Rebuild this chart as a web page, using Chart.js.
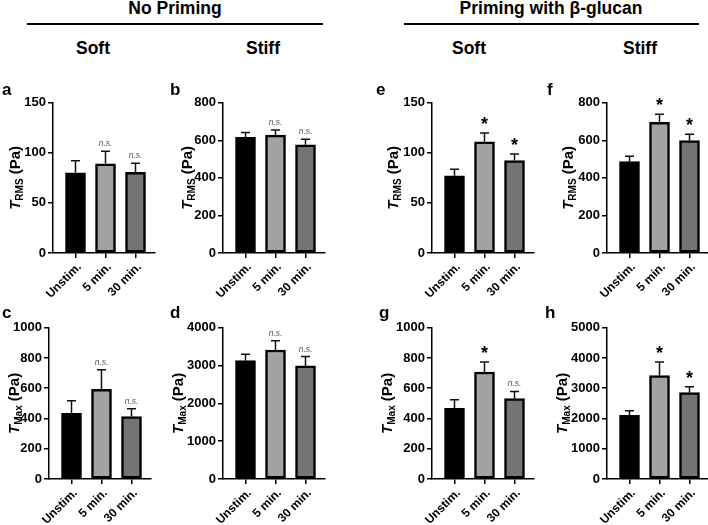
<!DOCTYPE html>
<html>
<head>
<meta charset="utf-8">
<script src="https://cdn.jsdelivr.net/npm/chart.js@4"></script>
<style>
  body { margin: 0; width: 708px; height: 525px; position: relative; overflow: hidden; background: #fff;
         font-family: "Liberation Sans", Arial, sans-serif; font-weight: bold; color: #000; }
  canvas { position: absolute; }
  .txt { position: absolute; line-height: 1; white-space: nowrap; }
  .hdr { font-size: 17.5px; transform: translateX(-50%); }
  .letter { font-size: 17px; }
  .rule { position: absolute; height: 0; border-top: 2px solid #000; }
</style>
</head>
<body>
<div class="txt hdr" style="left:175px; top:0px">No Priming</div>
<div class="txt hdr" style="left:551px; top:0px">Priming with β-glucan</div>
<div class="rule" style="left:27px; top:23px; width:296px"></div>
<div class="rule" style="left:404px; top:23px; width:295px"></div>
<div class="txt hdr" style="left:93px; top:40px">Soft</div>
<div class="txt hdr" style="left:263px; top:40px">Stiff</div>
<div class="txt hdr" style="left:469px; top:40px">Soft</div>
<div class="txt hdr" style="left:640px; top:40px">Stiff</div>
<script>
// x categories
const groups = ['Unstim.', '5 min.', '30 min.'];

// y tick labels
const rmsSoftTicks = [0, 50, 100, 150];
const rmsStiffTicks = [0, 200, 400, 600, 800];
const maxSoftTicks = [0, 200, 400, 600, 800, 1000];
const maxStiffTicks = [0, 1000, 2000, 3000, 4000];
const maxStiffPrimedTicks = [0, 1000, 2000, 3000, 4000, 5000];

// a - T_RMS, soft, no priming
const aMean = [80, 89, 80.5];
const aErr = [12, 12.5, 9];
const aMark = ['', 'n.s.', 'n.s.'];
// b - T_RMS, stiff, no priming
const bMean = [616, 627, 576];
const bErr = [25, 28, 29];
const bMark = ['', 'n.s.', 'n.s.'];
// c - T_Max, soft, no priming
const cMean = [434, 593, 413];
const cErr = [84, 129, 52];
const cMark = ['', 'n.s.', 'n.s.'];
// d - T_Max, stiff, no priming
const dMean = [3128, 3410, 2990];
const dErr = [167, 246, 246];
const dMark = ['', 'n.s.', 'n.s.'];
// e - T_RMS, soft, beta-glucan
const eMean = [77, 111, 92.3];
const eErr = [6.6, 8.8, 6.6];
const eMark = ['', '*', '*'];
// f - T_RMS, stiff, beta-glucan
const fMean = [487, 696, 598];
const fErr = [28, 42, 34];
const fMark = ['', '*', '*'];
// g - T_Max, soft, beta-glucan
const gMean = [467, 707, 531];
const gErr = [57, 66, 48];
const gMark = ['', '*', 'n.s.'];
// h - T_Max, stiff, beta-glucan
const hMean = [2104, 3414, 2852];
const hErr = [154, 452, 198];
const hMark = ['', '*', '*'];

const barColors = ['#000000', '#a2a2a2', '#747474'];
const FONT = '"Liberation Sans", Arial, sans-serif';

// layout of the 8 panels
const rowTop = [85, 310];
const xAxisH = [47, 46];
const panels = [
  { id: 'a', mean: aMean, err: aErr, mark: aMark, ticks: rmsSoftTicks, sub: 'RMS', row: 0, axisX: 53, titleX: 14, lx: 2 },
  { id: 'b', mean: bMean, err: bErr, mark: bMark, ticks: rmsStiffTicks, sub: 'RMS', row: 0, axisX: 223, titleX: 186, lx: 170 },
  { id: 'e', mean: eMean, err: eErr, mark: eMark, ticks: rmsSoftTicks, sub: 'RMS', row: 0, axisX: 432, titleX: 392, lx: 376 },
  { id: 'f', mean: fMean, err: fErr, mark: fMark, ticks: rmsStiffTicks, sub: 'RMS', row: 0, axisX: 607, titleX: 567, lx: 547 },
  { id: 'c', mean: cMean, err: cErr, mark: cMark, ticks: maxSoftTicks, sub: 'Max', row: 1, axisX: 49, titleX: 13, lx: 2 },
  { id: 'd', mean: dMean, err: dErr, mark: dMark, ticks: maxStiffTicks, sub: 'Max', row: 1, axisX: 223, titleX: 177, lx: 170 },
  { id: 'g', mean: gMean, err: gErr, mark: gMark, ticks: maxSoftTicks, sub: 'Max', row: 1, axisX: 432, titleX: 386, lx: 379 },
  { id: 'h', mean: hMean, err: hErr, mark: hMark, ticks: maxStiffPrimedTicks, sub: 'Max', row: 1, axisX: 607, titleX: 561, lx: 545 }
];

const Y_W = 55;   // room left of the y axis inside each canvas

// error bars, significance marks and the y title
function panelDecor(p) {
  return {
    id: 'decor',
    afterDatasetsDraw(chart) {
      const ctx = chart.ctx;
      const ys = chart.scales.y;
      chart.getDatasetMeta(0).data.forEach((bar, i) => {
        const top = ys.getPixelForValue(p.mean[i] + p.err[i]);
        ctx.save();
        ctx.strokeStyle = '#111';
        ctx.lineWidth = 1.5;
        ctx.beginPath();
        ctx.moveTo(bar.x, bar.y);
        ctx.lineTo(bar.x, top);
        ctx.moveTo(bar.x - 4.5, top);
        ctx.lineTo(bar.x + 4.5, top);
        ctx.stroke();
        ctx.textAlign = 'center';
        ctx.textBaseline = 'alphabetic';
        if (p.mark[i] === '*') {
          ctx.fillStyle = '#000';
          ctx.font = 'bold 18px ' + FONT;
          ctx.fillText('*', bar.x, top - 3);
        } else if (p.mark[i]) {
          ctx.fillStyle = '#555';
          ctx.font = 'italic 8.5px ' + FONT;
          ctx.fillText(p.mark[i], bar.x, top - 5);
        }
        ctx.restore();
      });
    },
    afterDraw(chart) {
      const ctx = chart.ctx;
      const area = chart.chartArea;
      const cx = p.titleX - (p.axisX - Y_W);
      const cy = (area.top + area.bottom) / 2;
      const parts = [
        { t: 'T', f: 'italic bold 15px ' + FONT, dy: 0 },
        { t: p.sub, f: 'bold 10px ' + FONT, dy: 3 },
        { t: ' (Pa)', f: 'bold 15px ' + FONT, dy: 0 }
      ];
      ctx.save();
      ctx.translate(cx, cy);
      ctx.rotate(-Math.PI / 2);
      ctx.fillStyle = '#000';
      ctx.textBaseline = 'alphabetic';
      let total = 0;
      parts.forEach(s => { ctx.font = s.f; s.w = ctx.measureText(s.t).width; total += s.w; });
      let x = -total / 2;
      parts.forEach(s => {
        ctx.font = s.f;
        ctx.fillText(s.t, x, 5.5 + s.dy);
        x += s.w;
      });
      ctx.restore();
    }
  };
}

function makePanel(p) {
  const cv = document.createElement('canvas');
  cv.width = 160;
  cv.height = 215;
  cv.style.left = (p.axisX - Y_W) + 'px';
  cv.style.top = rowTop[p.row] + 'px';
  document.body.appendChild(cv);

  const letter = document.createElement('div');
  letter.className = 'txt letter';
  letter.textContent = p.id;
  letter.style.left = p.lx + 'px';
  letter.style.top = (p.row === 0 ? 80.6 : 303.6) + 'px';
  document.body.appendChild(letter);

  const tickFont = { family: FONT, size: 13, weight: 'bold' };
  const catFont = { family: FONT, size: 12, weight: 'bold' };
  new Chart(cv, {
    type: 'bar',
    data: {
      datasets: [{
        data: p.mean.map((v, i) => ({ x: i, y: v })),
        backgroundColor: barColors,
        borderColor: '#000',
        borderWidth: 2.5,
        borderSkipped: false,
        barThickness: 20
      }]
    },
    options: {
      responsive: false,
      animation: false,
      devicePixelRatio: 1,
      layout: { padding: { top: 17.7, right: 3, left: 0, bottom: 0 } },
      plugins: { legend: { display: false }, tooltip: { enabled: false } },
      scales: {
        x: {
          type: 'linear',
          min: -0.75,
          max: 2.65,
          offset: false,
          afterBuildTicks: s => { s.ticks = groups.map((g, i) => ({ value: i })); },
          afterFit: s => { s.height = xAxisH[p.row]; },
          ticks: {
            callback: v => groups[v],
            minRotation: 45, maxRotation: 45, autoSkip: false,
            labelOffset: 4,
            font: catFont, color: '#000', padding: 2
          },
          grid: { drawOnChartArea: false, offset: false, color: '#000', lineWidth: 1.5, tickLength: 5 },
          border: { color: '#000', width: 1.5 }
        },
        y: {
          min: 0,
          max: p.ticks[p.ticks.length - 1],
          afterBuildTicks: s => { s.ticks = p.ticks.map(v => ({ value: v })); },
          afterFit: s => { s.width = Y_W; },
          ticks: { callback: v => String(v), font: tickFont, color: '#000', padding: 2 },
          grid: { drawOnChartArea: false, color: '#000', lineWidth: 1.5, tickLength: 5 },
          border: { color: '#000', width: 1.5 }
        }
      }
    },
    plugins: [panelDecor(p)]
  });
}

panels.forEach(makePanel);
</script>
</body>
</html>
